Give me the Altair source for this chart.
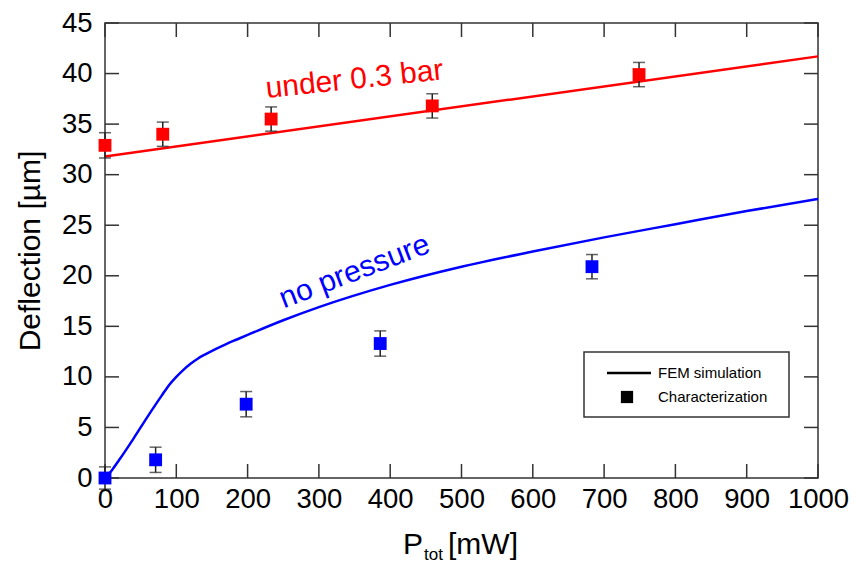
import altair as alt
import pandas as pd

# ---- data ----
red_x = [0, 81, 233, 459, 749]
red_y = [32.9, 34.0, 35.5, 36.8, 39.9]
red_err = [1.25, 1.2, 1.2, 1.2, 1.2]

blue_x = [0, 71, 198, 386, 683]
blue_y = [0.0, 1.8, 7.3, 13.3, 20.9]
blue_err = [1.1, 1.25, 1.25, 1.25, 1.2]

red_fit_x = [0, 1000]
red_fit_y = [31.8, 41.7]

blue_fit_x = [0, 10, 20, 40, 60, 80, 90, 100, 110, 120, 130, 140, 155, 170, 185, 200,
              250, 300, 400, 500, 600, 700, 800, 900, 1000]
blue_fit_y = [0.0, 0.8, 1.8, 3.9, 6.1, 8.2, 9.2, 10.0, 10.7, 11.3, 11.8, 12.2, 12.75, 13.25, 13.7, 14.15,
              15.6, 16.9, 19.1, 20.9, 22.4, 23.8, 25.1, 26.4, 27.6]

x_ticks = list(range(0, 1001, 100))
y_ticks = list(range(0, 46, 5))

series_names = ["under 0.3 bar", "no pressure"]
series_colors = ["#ff0000", "#0000ff"]

ann_text = ["under 0.3 bar", "no pressure"]
ann_x = [350, 350]
ann_y = [39.4, 20.4]
ann_angle = [354, 339]

legend_labels = ["FEM simulation", "Characterization"]

W, H = 713, 455
FONT = "Liberation Sans"

# ---- tables ----
pts = pd.DataFrame({
    "x": red_x + blue_x,
    "y": red_y + blue_y,
    "err": red_err + blue_err,
    "series": [series_names[0]] * len(red_x) + [series_names[1]] * len(blue_x),
})
pts["lo"] = pts["y"] - pts["err"]
pts["hi"] = pts["y"] + pts["err"]

fits = pd.DataFrame({
    "x": red_fit_x + blue_fit_x,
    "y": red_fit_y + blue_fit_y,
    "series": [series_names[0]] * len(red_fit_x) + [series_names[1]] * len(blue_fit_x),
})

ann = pd.DataFrame({"text": ann_text, "x": ann_x, "y": ann_y, "angle": ann_angle,
                    "series": series_names})

xs = alt.Scale(domain=[0, 1000], nice=False, zero=False)
ys = alt.Scale(domain=[0, 45], nice=False, zero=False)
cs = alt.Scale(domain=series_names, range=series_colors)

X = alt.X("x:Q", scale=xs, axis=alt.Axis(values=x_ticks, title=None, labelPadding=7,
                                          format="d", labelOverlap=False, labelFlush=False))
Y = alt.Y("y:Q", scale=ys, axis=alt.Axis(values=y_ticks, title="Deflection [µm]", format="d",
                                          labelPadding=13, titlePadding=16,
                                          labelOverlap=False, labelFlush=False))

lines = alt.Chart(fits).mark_line(strokeWidth=2.5, interpolate="monotone").encode(
    x=X, y=Y, color=alt.Color("series:N", scale=cs, legend=None), detail="series:N")

bars = alt.Chart(pts).mark_rule(color="#222", strokeWidth=1.5).encode(
    x="x:Q", y="lo:Q", y2="hi:Q")
cap_lo = alt.Chart(pts).mark_tick(color="#222", orient="horizontal", size=12, thickness=1.5).encode(
    x="x:Q", y="lo:Q")
cap_hi = alt.Chart(pts).mark_tick(color="#222", orient="horizontal", size=12, thickness=1.5).encode(
    x="x:Q", y="hi:Q")

squares = alt.Chart(pts).mark_square(size=165, opacity=1).encode(
    x="x:Q", y="y:Q", color=alt.Color("series:N", scale=cs, legend=None))

texts = alt.Chart(ann).mark_text(font=FONT, fontSize=30, align="center", baseline="middle").encode(
    x="x:Q", y="y:Q", text="text:N", angle=alt.Angle("angle:Q", scale=None),
    color=alt.Color("series:N", scale=cs, legend=None))

# inward ticks on all four sides
xt = pd.DataFrame({"x": x_ticks})
yt = pd.DataFrame({"y": y_ticks})
tick_style = dict(color="#333", strokeWidth=1.5)
tb = alt.Chart(xt).mark_rule(**tick_style).encode(x="x:Q", y=alt.value(H), y2=alt.value(H - 14))
tt = alt.Chart(xt).mark_rule(**tick_style).encode(x="x:Q", y=alt.value(0), y2=alt.value(14))
tl = alt.Chart(yt).mark_rule(**tick_style).encode(y="y:Q", x=alt.value(0), x2=alt.value(14))
tr = alt.Chart(yt).mark_rule(**tick_style).encode(y="y:Q", x=alt.value(W), x2=alt.value(W - 14))

# legend box (placed in the lower right of the plot area)
one = pd.DataFrame({"k": [0]})
leg_box = alt.Chart(one).mark_rect(fill="white", stroke="#333", strokeWidth=1.5).encode(
    x=alt.value(479), x2=alt.value(684), y=alt.value(329), y2=alt.value(394))
leg_line = alt.Chart(one).mark_rule(color="black", strokeWidth=2.5).encode(
    x=alt.value(502), x2=alt.value(546), y=alt.value(350))
leg_sq = alt.Chart(one).mark_square(color="black", size=150, opacity=1).encode(
    x=alt.value(522), y=alt.value(374))
leg_txt1 = alt.Chart(pd.DataFrame({"t": [legend_labels[0]]})).mark_text(
    font=FONT, fontSize=15, align="left", baseline="middle", color="black").encode(
    text="t:N", x=alt.value(553), y=alt.value(350))
leg_txt2 = alt.Chart(pd.DataFrame({"t": [legend_labels[1]]})).mark_text(
    font=FONT, fontSize=15, align="left", baseline="middle", color="black").encode(
    text="t:N", x=alt.value(553), y=alt.value(374))

# x-axis title with subscript
t_p = alt.Chart(pd.DataFrame({"t": ["P"]})).mark_text(
    font=FONT, fontSize=30, align="left", baseline="alphabetic", color="black").encode(
    text="t:N", x=alt.value(298), y=alt.value(531))
t_sub = alt.Chart(pd.DataFrame({"t": ["tot"]})).mark_text(
    font=FONT, fontSize=17, align="left", baseline="alphabetic", color="black").encode(
    text="t:N", x=alt.value(319), y=alt.value(537))
t_unit = alt.Chart(pd.DataFrame({"t": ["[mW]"]})).mark_text(
    font=FONT, fontSize=30, align="left", baseline="alphabetic", color="black").encode(
    text="t:N", x=alt.value(343), y=alt.value(531))

chart = alt.layer(
    tb, tt, tl, tr, lines, bars, cap_lo, cap_hi, squares, texts,
    leg_box, leg_line, leg_sq, leg_txt1, leg_txt2, t_p, t_sub, t_unit
).properties(
    width=W, height=H,
    autosize=alt.AutoSizeParams(type="none"),
    padding={"left": 97, "top": 15, "right": 31, "bottom": 85},
).configure_view(
    stroke="#333", strokeWidth=1.5
).configure_axis(
    labelFont=FONT, labelFontSize=27.5, labelColor="black",
    titleFont=FONT, titleFontSize=30, titleFontWeight="normal", titleColor="black",
    grid=False, domain=False, ticks=False, tickSize=0,
)

chart.save("out.html", embed_options={"renderer": "svg", "actions": False})
